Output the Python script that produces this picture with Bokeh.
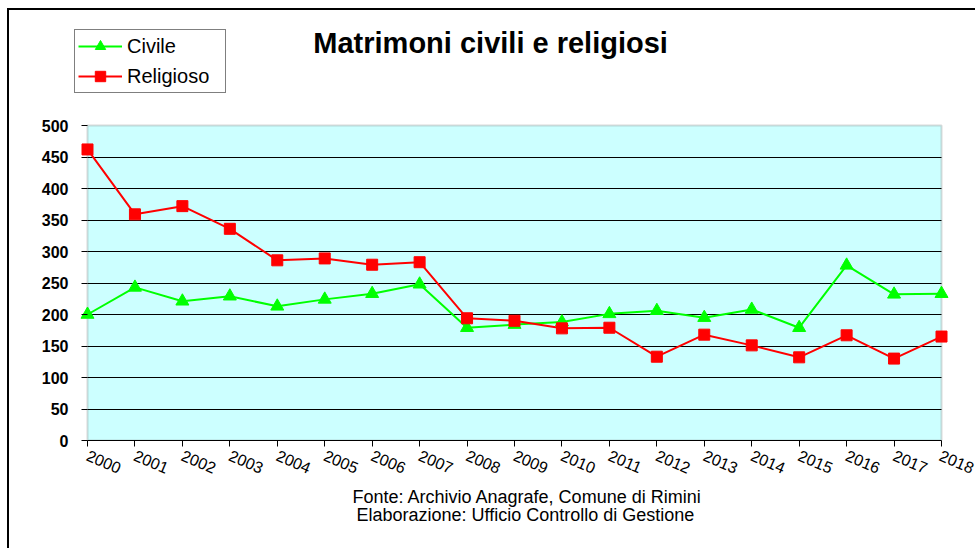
from bokeh.plotting import figure
from bokeh.models import (Range1d, FixedTicker, Legend, LegendItem, Title, ColumnDataSource,
                          BoxAnnotation, Label)
from bokeh.embed import file_html
from bokeh.resources import INLINE

years = list(range(2000, 2019))
civile = [200, 243, 221, 229, 213, 224, 233, 248, 179, 184, 188, 201, 206, 195, 208, 179, 278, 232, 233]
religioso = [462, 359, 372, 336, 286, 289, 279, 283, 194, 190, 178, 179, 133, 168, 151, 132, 167, 130, 165]
y_ticks = [0, 50, 100, 150, 200, 250, 300, 350, 400, 450, 500]
grid_ticks = [50, 100, 150, 200, 250, 300, 350, 400, 450]
y_max = 500

title_text = "Matrimoni civili e religiosi"
source_1 = "Fonte: Archivio Anagrafe, Comune di Rimini"
source_2 = "Elaborazione: Ufficio Controllo di Gestione"

FONT = "Liberation Sans"

# The frame is a little larger than the plot area so that the legend, title and edge
# markers (placed inside it) are not clipped.
PX_PER_YEAR = 854 / 18
PAD_PX = 13
PAD_X = PAD_PX / PX_PER_YEAR
FRAME_TOP_PAD = 416 / 315
p = figure(width=968, height=540, output_backend="svg", toolbar_location=None,
           x_range=Range1d(years[0] - PAD_X, years[-1] + PAD_X),
           y_range=Range1d(0, y_max * FRAME_TOP_PAD),
           min_border_left=65, min_border_right=23, min_border_top=14, min_border_bottom=110,
           title_location=None)

p.styles = {"margin-left": "7px", "margin-top": "8px",
            "border-left": "2px solid black", "border-top": "2px solid black"}

p.background_fill_color = "white"
p.border_fill_color = "white"
p.outline_line_color = None

# plot area (cyan with grey frame)
area = BoxAnnotation(left=years[0], right=years[-1], bottom=0, top=y_max,
                     fill_color="#CCFFFF", fill_alpha=1, line_color="#808080", line_width=2,
                     level="image")
p.add_layout(area)

p.xgrid.grid_line_color = None
p.ygrid.ticker = FixedTicker(ticks=grid_ticks)
p.ygrid.cross_bounds = (years[0], years[-1])
p.ygrid.grid_line_color = "black"
p.ygrid.grid_line_width = 1

p.yaxis.ticker = FixedTicker(ticks=y_ticks)
p.yaxis.bounds = (0, y_max)
p.xaxis.ticker = FixedTicker(ticks=years)
p.xaxis.bounds = (years[0], years[-1])
p.xaxis.major_label_overrides = {y: str(y) for y in years}
p.xaxis.major_label_orientation = -0.4
p.xaxis.major_label_text_font = FONT
p.xaxis.major_label_text_font_size = "16px"
p.yaxis.major_label_text_font = FONT
p.yaxis.major_label_text_font_size = "16px"
p.yaxis.major_label_text_font_style = "bold"
for ax in (p.xaxis, p.yaxis):
    ax.minor_tick_line_color = None
    ax.major_tick_line_color = "black"
    ax.major_label_text_color = "black"
p.xaxis.major_tick_in = 0
p.xaxis.major_tick_out = 6
p.xaxis.major_label_standoff = 8
# y ticks sit on the plot-area edge, PAD_PX inside the frame edge
p.yaxis.major_tick_in = PAD_PX
p.yaxis.major_tick_out = 6 - PAD_PX
p.yaxis.major_label_standoff = 6
p.xaxis.axis_line_color = "black"
p.yaxis.axis_line_color = None

src = ColumnDataSource(dict(x=years, civ=civile, rel=religioso))
l1 = p.line("x", "civ", source=src, line_color="#00FF00", line_width=2)
m1 = p.scatter("x", "civ", source=src, marker="triangle", size=13, fill_color="#00FF00", line_color="#00FF00")
l2 = p.line("x", "rel", source=src, line_color="#FF0000", line_width=2)
m2 = p.scatter("x", "rel", source=src, marker="square", size=11, fill_color="#FF0000", line_color="#FF0000")

legend = Legend(items=[LegendItem(label="Civile", renderers=[l1, m1]),
                       LegendItem(label="Religioso", renderers=[l2, m2])],
                location=(0, 347), orientation="vertical")
legend.border_line_color = "black"
legend.border_line_width = 1
legend.background_fill_color = "white"
legend.background_fill_alpha = 1
legend.label_text_font = FONT
legend.label_text_font_size = "20px"
legend.label_text_color = "black"
legend.glyph_width = 44
legend.glyph_height = 26
legend.label_height = 20
legend.label_width = 95
legend.label_standoff = 5
legend.spacing = 4
legend.padding = 3
legend.margin = 0
p.add_layout(legend, "center")

title = Label(x=2004.76, y=631.7, text=title_text, text_font=FONT, text_font_size="29px",
              text_font_style="bold", text_color="black", text_align="left", text_baseline="middle")
p.add_layout(title)

t1 = Title(text=source_1, text_font=FONT, text_font_size="18px", text_font_style="normal",
           text_color="black", align="left", offset=278, standoff=5)
t2 = Title(text=source_2, text_font=FONT, text_font_size="18px", text_font_style="normal",
           text_color="black", align="left", offset=282, standoff=-14)
p.add_layout(t1, "below")
p.add_layout(t2, "below")

open("out.html", "w").write(file_html(p, INLINE))
